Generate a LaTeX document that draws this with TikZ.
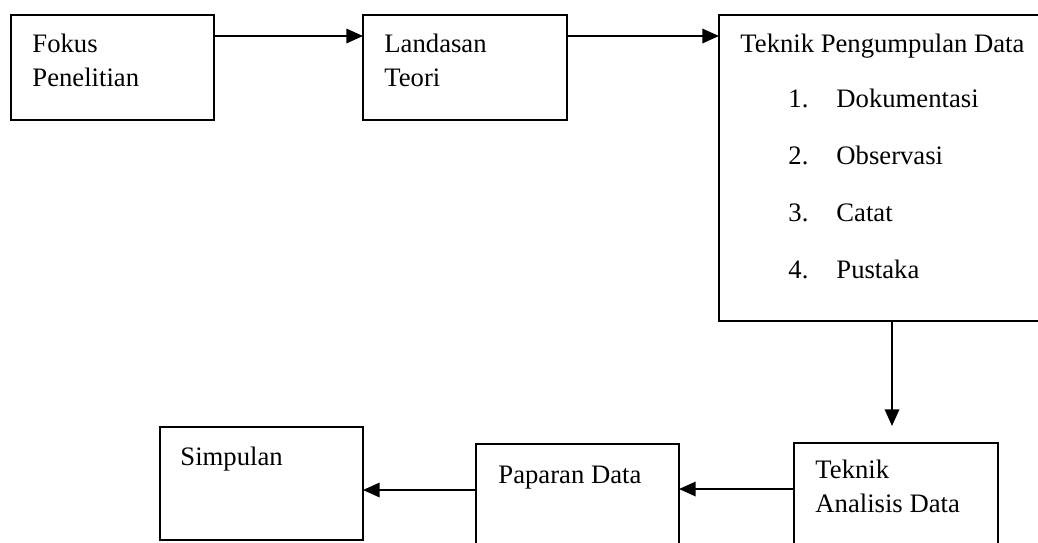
\documentclass[tikz,border=0pt]{standalone}
\usepackage{fontspec}
\setmainfont{Liberation Serif}
\usetikzlibrary{arrows.meta}
\tikzset{
  box/.style n args={2}{draw, line width=0.9pt, minimum width=#1*0.45pt, minimum height=#2*0.45pt, inner sep=0pt, outer sep=0pt},
  lbl/.style={anchor=base west, inner sep=0pt, align=left, font=\fontsize{12}{15.3}\selectfont},
  arr/.style={line width=0.9pt, -{Triangle[length=7.5pt, width=6.5pt]}},
}
\begin{document}
\begin{tikzpicture}[x=0.45pt, y=-0.45pt]
\useasboundingbox (0,0) rectangle (1038,542);
% kotak atas
\node[box={203}{105}] (fokus) at (112.5,67.5) {};
\node[box={204}{105}] (landasan) at (465,67.5) {};
\node[box={330}{306}] (pengumpulan) at (884,168) {};
% kotak bawah
\node[box={203}{113}] (simpulan) at (261.5,483.5) {};
\node[box={203}{110}] (paparan) at (577.5,499) {};
\node[box={204}{110}] (analisis) at (896,498) {};
% teks (base = baris terakhir)
\node[lbl] (fokustxt) at (32,86) {Fokus\\Penelitian};
\node[lbl] (landasantxt) at (384,86) {Landasan\\Teori};
\node[lbl] (pengumpulantxt) at (740,52) {Teknik Pengumpulan Data};
\foreach \i/\itemtxt in {1/Dokumentasi, 2/Observasi, 3/Catat, 4/Pustaka}{
  \node[lbl] (no\i) at (788,{107+57.3*(\i-1)}) {\i.};
  \node[lbl] (item\i) at (836,{107+57.3*(\i-1)}) {\itemtxt};
}
\node[lbl] (simpulantxt) at (180,465) {Simpulan};
\node[lbl] (paparantxt) at (498,483) {Paparan Data};
\node[lbl] (analisistxt) at (815,512) {Teknik\\Analisis Data};
% panah
\draw[arr] (fokus.east |- 0,36) -- (landasan.west |- 0,36);
\draw[arr] (landasan.east |- 0,36) -- (pengumpulan.west |- 0,36);
\draw[arr] (pengumpulan.south -| 892,0) -- ([yshift=7.65pt]analisis.north -| 892,0);
\draw[arr] (analisis.west |- 0,489) -- (paparan.east |- 0,489);
\draw[arr] (paparan.west |- 0,490) -- (simpulan.east |- 0,490);
\end{tikzpicture}
\end{document}
